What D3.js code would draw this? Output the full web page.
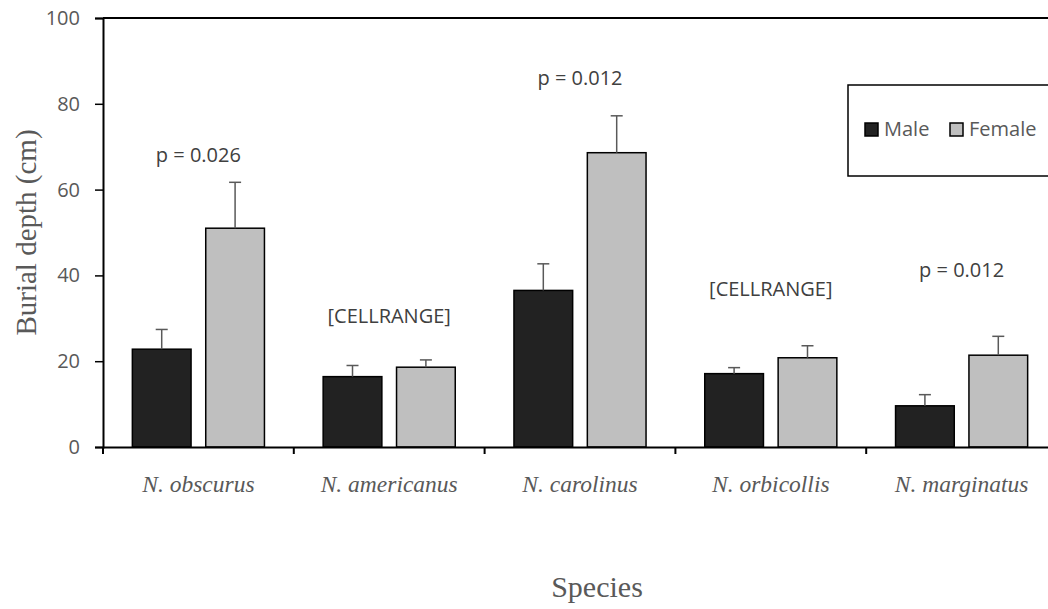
<!DOCTYPE html>
<html>
<head>
<meta charset="utf-8">
<script src="https://cdn.jsdelivr.net/npm/d3@7"></script>
<style>
  body { margin: 0; background: #fff; }
  svg { display: block; overflow: hidden; }
</style>
</head>
<body>
<div class="chart"></div>
<script>
// data
const species = ["N. obscurus", "N. americanus", "N. carolinus", "N. orbicollis", "N. marginatus"]
const sexes = ["Male", "Female"]
const maleMean = [22.8, 16.4, 36.5, 17.1, 9.6]
const maleErr = [4.6, 2.6, 6.2, 1.4, 2.6]
const femaleMean = [51.0, 18.6, 68.6, 20.8, 21.4]
const femaleErr = [10.7, 1.7, 8.6, 2.8, 4.4]
const pLabels = ["p = 0.026", "[CELLRANGE]", "p = 0.012", "[CELLRANGE]", "p = 0.012"]
const pLabelLevel = [66.4, 28.9, 84.4, 35.2, 39.6]
const yTicks = [0, 20, 40, 60, 80, 100]

const width = 1048, height = 609
const margin = {top: 18, left: 103, bottom: 162}
const plotRight = 1057   // plot runs past the right edge, cropped like the reference

const svg = d3.select(".chart").append("svg").attr("width", width).attr("height", height)

const x0 = d3.scaleBand().domain(species).range([margin.left, plotRight]).padding(0)
const x1 = d3.scaleBand().domain(sexes).range([0, x0.bandwidth()]).paddingInner(0.2).paddingOuter(0.4)
const y = d3.scaleLinear().domain([0, 100]).range([height - margin.bottom, margin.top])
const colour = d3.scaleOrdinal().domain(sexes).range(["#222222", "#bfbfbf"])

const rows = species.map((s, i) => ({
  name: s,
  vals: [
    {sex: "Male", mean: maleMean[i], err: maleErr[i]},
    {sex: "Female", mean: femaleMean[i], err: femaleErr[i]}
  ]
}))

const sans = "'Open Sans', sans-serif"
const serif = "'Liberation Serif', 'Times New Roman', serif"

// top border of the plot area
svg.append("line").attr("x1", margin.left).attr("x2", width)
   .attr("y1", y(100)).attr("y2", y(100)).attr("stroke", "#000").attr("stroke-width", 2)

// y axis
const yAxis = svg.append("g").attr("transform", `translate(${margin.left},0)`)
   .call(d3.axisLeft(y).tickValues(yTicks).tickSize(8).tickPadding(15))
yAxis.select(".domain").attr("stroke", "#000").attr("stroke-width", 2)
yAxis.selectAll(".tick line").attr("stroke", "#000").attr("stroke-width", 1.5)
yAxis.selectAll(".tick text").attr("fill", "#595959").style("font-family", sans).style("font-size", "20px")

// bars
const groups = svg.selectAll(".grp").data(rows).enter().append("g")
   .attr("class", "grp").attr("transform", d => `translate(${x0(d.name)},0)`)

groups.selectAll("rect").data(d => d.vals).enter().append("rect")
   .attr("x", d => x1(d.sex)).attr("width", x1.bandwidth())
   .attr("y", d => y(d.mean)).attr("height", d => y(0) - y(d.mean))
   .attr("fill", d => colour(d.sex)).attr("stroke", "#000").attr("stroke-width", 1.5)

// error bars (upper only)
const eb = groups.selectAll(".err").data(d => d.vals).enter().append("g").attr("class", "err")
eb.append("line")
   .attr("x1", d => x1(d.sex) + x1.bandwidth() / 2).attr("x2", d => x1(d.sex) + x1.bandwidth() / 2)
   .attr("y1", d => y(d.mean)).attr("y2", d => y(d.mean + d.err))
   .attr("stroke", "#595959").attr("stroke-width", 1.5)
eb.append("line")
   .attr("x1", d => x1(d.sex) + x1.bandwidth() / 2 - 6).attr("x2", d => x1(d.sex) + x1.bandwidth() / 2 + 6)
   .attr("y1", d => y(d.mean + d.err)).attr("y2", d => y(d.mean + d.err))
   .attr("stroke", "#595959").attr("stroke-width", 1.5)

// p-value labels
svg.selectAll(".plab").data(species).enter().append("text").attr("class", "plab")
   .attr("x", d => x0(d) + x0.bandwidth() / 2).attr("y", (d, i) => y(pLabelLevel[i]))
   .attr("text-anchor", "middle").attr("fill", "#404040")
   .style("font-family", sans).style("font-size", "20px")
   .text((d, i) => pLabels[i])

// x axis
const xAxis = svg.append("g").attr("transform", `translate(0,${y(0)})`)
   .call(d3.axisBottom(x0).tickSize(0).tickPadding(28))
xAxis.select(".domain").attr("stroke", "#000").attr("stroke-width", 2)
xAxis.selectAll(".tick text").attr("fill", "#595959")
   .style("font-family", serif).style("font-size", "23.5px").style("font-style", "italic")
// category boundary ticks
xAxis.selectAll(".sep").data(species).enter().append("line").attr("class", "sep")
   .attr("x1", d => x0(d)).attr("x2", d => x0(d)).attr("y1", 0).attr("y2", 7)
   .attr("stroke", "#000").attr("stroke-width", 2)

// axis titles
svg.append("text").attr("transform", `translate(36,${(y(0) + y(100)) / 2}) rotate(-90)`)
   .attr("text-anchor", "middle").attr("fill", "#595959")
   .style("font-family", serif).style("font-size", "29px").text("Burial depth (cm)")
svg.append("text").attr("x", 597).attr("y", 597)
   .attr("text-anchor", "middle").attr("fill", "#595959")
   .style("font-family", serif).style("font-size", "30px").text("Species")

// legend
const legend = svg.append("g").attr("transform", "translate(848,85)")
legend.append("rect").attr("width", 215).attr("height", 91)
   .attr("fill", "#fff").attr("stroke", "#000").attr("stroke-width", 1.5)
const legendX = [17, 102]
const item = legend.selectAll(".item").data(sexes).enter().append("g").attr("class", "item")
   .attr("transform", (d, i) => `translate(${legendX[i]},38)`)
item.append("rect").attr("width", 13).attr("height", 13)
   .attr("fill", d => colour(d)).attr("stroke", "#000").attr("stroke-width", 1.5)
item.append("text").attr("x", 19).attr("y", 13)
   .attr("fill", "#595959").style("font-family", sans).style("font-size", "20px").text(d => d)
</script>
</body>
</html>
